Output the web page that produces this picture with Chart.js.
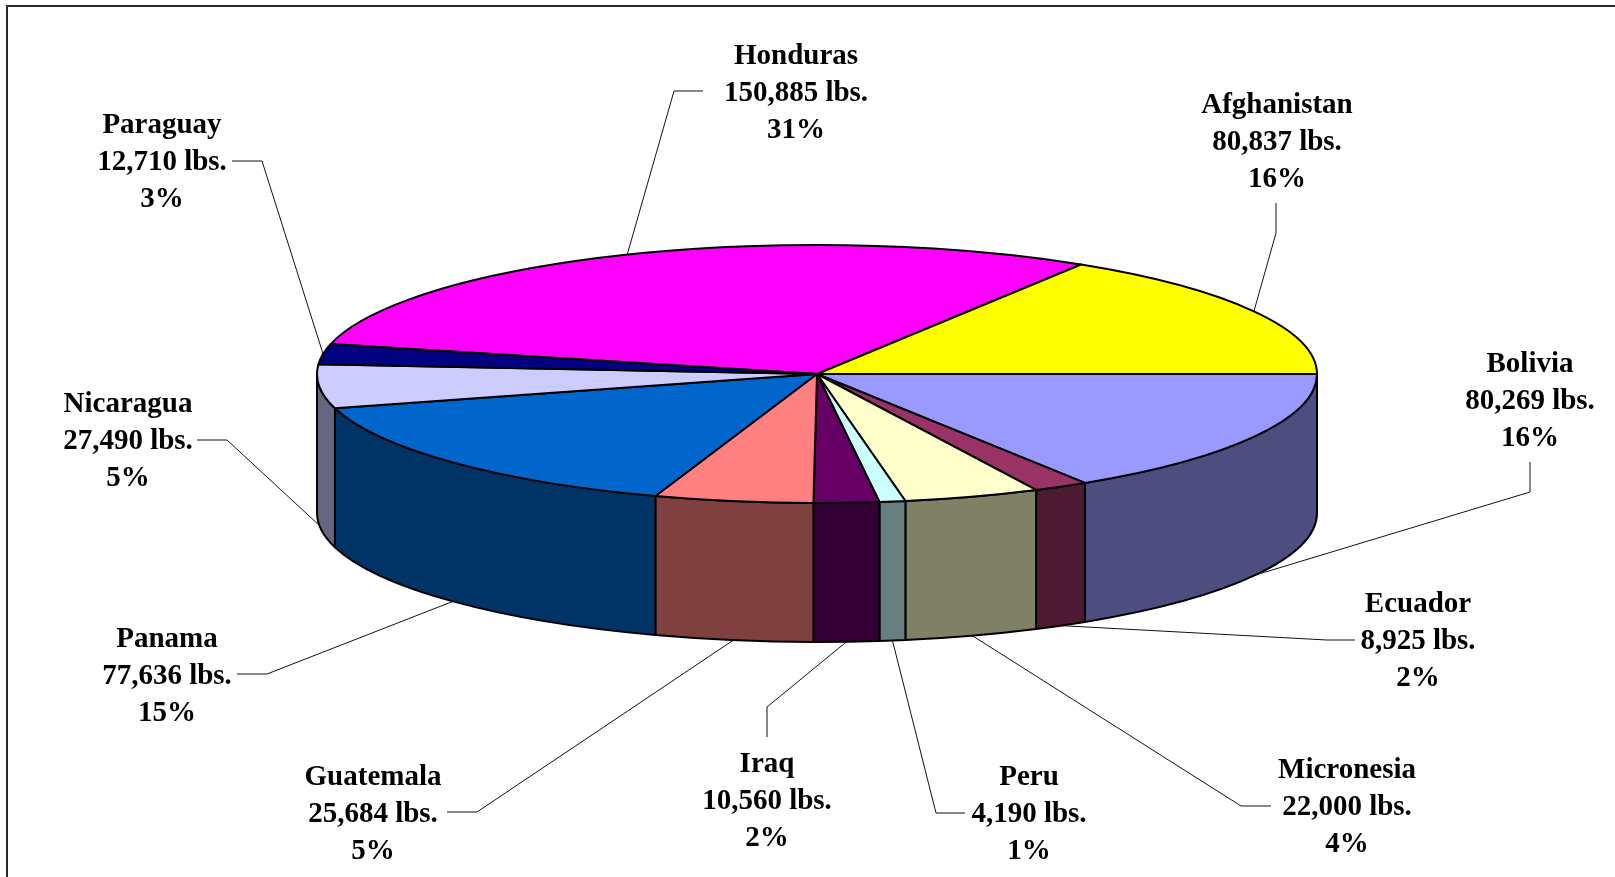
<!DOCTYPE html>
<html>
<head>
<meta charset="utf-8">
<script src="https://cdn.jsdelivr.net/npm/chart.js@4/dist/chart.umd.min.js"></script>
<style>
    html, body { margin: 0; padding: 0; background: #fff; }
    #wrap { position: relative; width: 1615px; height: 877px; }
    #frame { position: absolute; left: 6px; top: 5px; right: 0; bottom: 0;
             border-top: 2px solid #2a2a2a; border-left: 2px solid #2a2a2a; pointer-events: none; }
</style>
</head>
<body>
<div id="wrap">
    <canvas id="chart"></canvas>
    <div id="frame"></div>
</div>
<script>
    // values, clockwise from the top-left slice
    var countries = ["Honduras", "Afghanistan", "Bolivia", "Ecuador", "Micronesia", "Peru",
                     "Iraq", "Guatemala", "Panama", "Nicaragua", "Paraguay"];
    var pounds = [150885, 80837, 80269, 8925, 22000, 4190, 10560, 25684, 77636, 27490, 12710];
    var percentLabels = ["31%", "16%", "16%", "2%", "4%", "1%", "2%", "5%", "15%", "5%", "3%"];

    var sliceColors = ["#FF00FF", "#FFFF00", "#9999FF", "#993366", "#FFFFCC", "#CCFFFF",
                       "#660066", "#FF8080", "#0066CC", "#CCCCFF", "#000080"];

    // pie shape (pixels)
    var RX = 500, RY = 129, DEPTH = 139;

    // where each label sits: centre x, first baseline, leader elbow and leader end
    var labelLayout = [
        { x: 796,  y: 64,  elbow: [674, 91],   end: [703, 91] },
        { x: 1277, y: 113, elbow: [1276, 233], end: [1276, 203] },
        { x: 1530, y: 372, elbow: [1530, 492], end: [1530, 462] },
        { x: 1418, y: 612, elbow: [1327, 640], end: [1355, 640] },
        { x: 1347, y: 778, elbow: [1241, 806], end: [1271, 806] },
        { x: 1029, y: 785, elbow: [936, 813],  end: [965, 813] },
        { x: 767,  y: 772, elbow: [767, 707],  end: [767, 737] },
        { x: 373,  y: 785, elbow: [477, 812],  end: [447, 812] },
        { x: 167,  y: 647, elbow: [267, 674],  end: [237, 674] },
        { x: 128,  y: 412, elbow: [227, 440],  end: [197, 440] },
        { x: 162,  y: 133, elbow: [262, 161],  end: [232, 161] }
    ];
    var LINE_GAP = 37;
    var LABEL_FONT = 'bold 29px "Liberation Serif", "Times New Roman", serif';

    function darken(hex) {
        var n = parseInt(hex.slice(1), 16);
        var r = Math.round(((n >> 16) & 255) / 2);
        var g = Math.round(((n >> 8) & 255) / 2);
        var b = Math.round((n & 255) / 2);
        return "rgb(" + r + "," + g + "," + b + ")";
    }

    var pie3d = {
        id: "pie3d",
        beforeDatasetsDraw: function(chart) {
            var ctx = chart.ctx;
            var arcs = chart.getDatasetMeta(0).data;
            var colors = chart.data.datasets[0].backgroundColor;
            var cx = arcs[0].x, cy = arcs[0].y;

            ctx.save();
            ctx.lineWidth = 2;
            ctx.lineJoin = "round";
            ctx.strokeStyle = "#000";

            // side walls of the front half
            arcs.forEach(function(a, i) {
                var s = Math.max(a.startAngle, 0);
                var e = Math.min(a.endAngle, Math.PI);
                if (s >= e) {
                    return;
                }
                ctx.beginPath();
                ctx.ellipse(cx, cy, RX, RY, 0, s, e, false);
                ctx.lineTo(cx + RX * Math.cos(e), cy + RY * Math.sin(e) + DEPTH);
                ctx.ellipse(cx, cy + DEPTH, RX, RY, 0, e, s, true);
                ctx.closePath();
                ctx.fillStyle = darken(colors[i]);
                ctx.fill();
                ctx.stroke();
            });

            // top faces
            arcs.forEach(function(a, i) {
                ctx.beginPath();
                ctx.moveTo(cx, cy);
                ctx.ellipse(cx, cy, RX, RY, 0, a.startAngle, a.endAngle, false);
                ctx.closePath();
                ctx.fillStyle = colors[i];
                ctx.fill();
                ctx.stroke();
            });

            // leader lines
            ctx.lineWidth = 1;
            ctx.strokeStyle = "#111";
            arcs.forEach(function(a, i) {
                var m = (a.startAngle + a.endAngle) / 2;
                var mm = ((m % (2 * Math.PI)) + 2 * Math.PI) % (2 * Math.PI);
                var x0 = cx + RX * Math.cos(m);
                var y0 = cy + RY * Math.sin(m) + (mm < Math.PI ? DEPTH : 0);
                var L = labelLayout[i];
                ctx.beginPath();
                ctx.moveTo(x0, y0);
                ctx.lineTo(L.elbow[0], L.elbow[1]);
                ctx.lineTo(L.end[0], L.end[1]);
                ctx.stroke();
            });

            // labels
            ctx.fillStyle = "#000";
            ctx.font = LABEL_FONT;
            ctx.textAlign = "center";
            ctx.textBaseline = "alphabetic";
            arcs.forEach(function(a, i) {
                var L = labelLayout[i];
                var lines = [
                    chart.data.labels[i],
                    chart.data.datasets[0].data[i].toLocaleString("en-US") + " lbs.",
                    percentLabels[i]
                ];
                lines.forEach(function(t, k) {
                    ctx.fillText(t, L.x, L.y + k * LINE_GAP);
                });
            });

            ctx.restore();
            return false;
        }
    };

    var canvas = document.getElementById("chart");
    canvas.width = 1615;
    canvas.height = 877;

    new Chart(canvas, {
        type: "pie",
        data: {
            labels: countries,
            datasets: [{
                data: pounds,
                backgroundColor: sliceColors,
                borderColor: "#000",
                borderWidth: 2
            }]
        },
        options: {
            responsive: false,
            animation: false,
            rotation: -76.5,
            layout: { padding: { left: 19, right: 0, top: 0, bottom: 129 } },
            plugins: {
                legend: { display: false },
                tooltip: { enabled: false }
            }
        },
        plugins: [pie3d]
    });
</script>
</body>
</html>
